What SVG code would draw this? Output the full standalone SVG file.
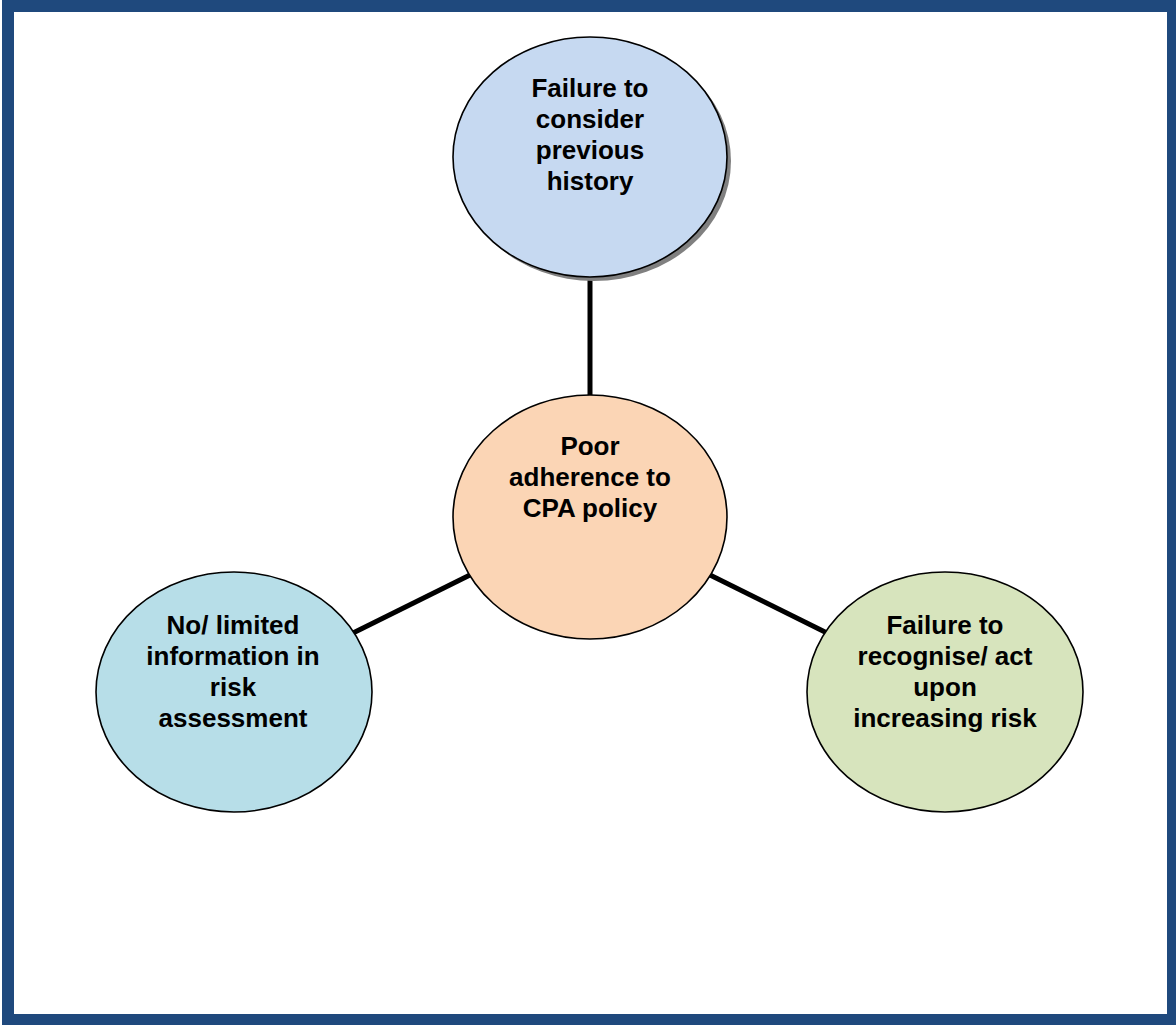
<svg xmlns="http://www.w3.org/2000/svg" width="1176" height="1025" viewBox="0 0 1176 1025">
<style>
.n{stroke:#000;stroke-width:1.6}
.t{font-family:"Liberation Sans",Arial,sans-serif;font-weight:bold;font-size:26px;fill:#000;text-anchor:middle}
.c{stroke:#000;stroke-width:5;fill:none}
</style>
<rect x="0" y="0" width="1176" height="1025" fill="#fff"/>
<rect x="8" y="6" width="1165" height="1014" fill="none" stroke="#1F497D" stroke-width="12"/>
<g id="connectors">
<line class="c" x1="590" y1="277" x2="590" y2="396"/>
<line class="c" x1="472" y1="574" x2="353" y2="633"/>
<line class="c" x1="708" y1="574" x2="827" y2="633"/>
</g>
<g id="top">
<ellipse cx="594" cy="161" rx="137" ry="120" fill="#808080"/>
<ellipse class="n" cx="590" cy="157" rx="137" ry="120" fill="#C6D9F1"/>
<text class="t" x="590" y="97">Failure to</text>
<text class="t" x="590" y="128">consider</text>
<text class="t" x="590" y="159">previous</text>
<text class="t" x="590" y="190">history</text>
</g>
<g id="center">
<ellipse class="n" cx="590" cy="517" rx="137" ry="122" fill="#FBD5B5"/>
<text class="t" x="590" y="455">Poor</text>
<text class="t" x="590" y="486">adherence to</text>
<text class="t" x="590" y="517">CPA policy</text>
</g>
<g id="left">
<ellipse class="n" cx="234" cy="692" rx="138" ry="120" fill="#B7DEE8"/>
<text class="t" x="233" y="634">No/ limited</text>
<text class="t" x="233" y="665">information in</text>
<text class="t" x="233" y="696">risk</text>
<text class="t" x="233" y="727">assessment</text>
</g>
<g id="right">
<ellipse class="n" cx="945" cy="692" rx="138" ry="120" fill="#D7E4BD"/>
<text class="t" x="945" y="634">Failure to</text>
<text class="t" x="945" y="665">recognise/ act</text>
<text class="t" x="945" y="696">upon</text>
<text class="t" x="945" y="727">increasing risk</text>
</g>
</svg>
